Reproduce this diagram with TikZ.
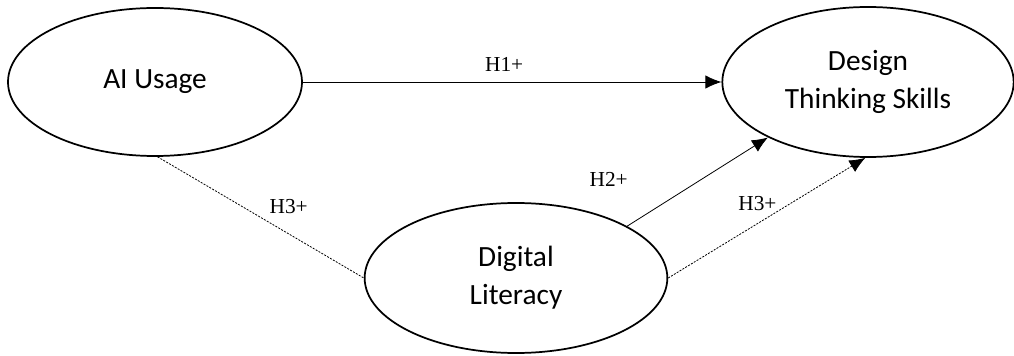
\documentclass[tikz,border=0pt]{standalone}
\usepackage{fontspec}
\setmainfont{Liberation Serif}
\newfontfamily\ovalfont{Carlito}
\usetikzlibrary{shapes.geometric}
\usetikzlibrary{arrows.meta}

\begin{document}
\begin{tikzpicture}[x=0.75pt,y=-0.75pt,>={Latex[length=12pt,width=10pt]},
  construct/.style={ellipse,draw,line width=1.3pt,inner sep=0pt,
  align=center,font=\ovalfont\fontsize{22}{28.5}\selectfont},
  hyp/.style={font=\fontsize{16}{18}\selectfont,inner sep=0pt}]
  \useasboundingbox (0,0) rectangle (1014,356);
  % constructs
  \node[construct,minimum width=220.5pt,minimum height=111pt] (ai) at (155,82) {AI Usage};
  \node[construct,minimum width=218.5pt,minimum height=112.5pt] (dts) at (868,82) {Design\\Thinking Skills};
  \node[construct,minimum width=227pt,minimum height=112.5pt] (dl) at (516,278) {Digital\\Literacy};

  \path[line width=0.6pt]
  	% direct paths
  	(ai) edge[->] node[hyp,xshift=-6pt,yshift=13.5pt] {H1+} (dts)
  	(dl.25) edge[->] node[hyp,pos=0.2,xshift=-35pt,yshift=22pt] {H2+} (dts.209)
  	% mediated paths
  	(ai.272) edge[dash pattern=on 1.5pt off 1pt] node[hyp,xshift=21pt,yshift=8pt] {H3+} (dl.west)
  	(dl.east) edge[->,dash pattern=on 1.5pt off 1pt] node[hyp,xshift=-7pt,yshift=10.5pt] {H3+} (dts.268);
\end{tikzpicture}
\end{document}
